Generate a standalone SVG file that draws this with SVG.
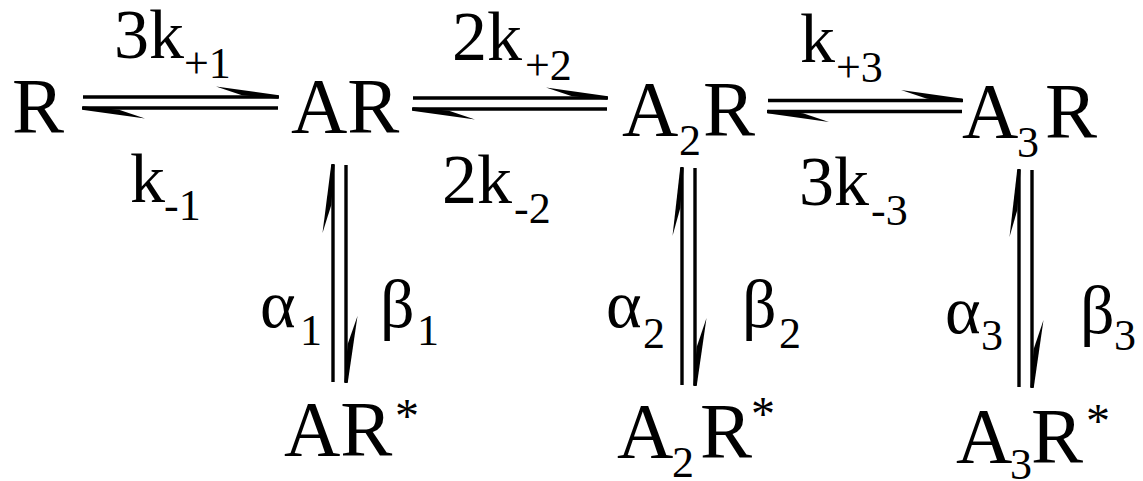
<svg xmlns="http://www.w3.org/2000/svg" width="1143" height="481" viewBox="0 0 1143 481">
<style>
text{font-family:"Times New Roman",Times,"Liberation Serif","DejaVu Serif",serif;fill:#000}
.n{font-size:78px}
.l{font-size:70px}
.g{font-size:68px}
.s{font-size:44px}
.st{font-size:48px}
.ln{stroke:#000;stroke-width:3.4;fill:none}
.b{fill:#000}
</style>
<rect width="1143" height="481" fill="#fff"/>
<g id="connectors">
  <line class="ln" x1="83" y1="97" x2="278" y2="97"/>
  <line class="ln" x1="83" y1="108" x2="278" y2="108"/>
  <polygon class="b" points="216,86.5 279,95.3 279,98.7 242,95.3"/>
  <polygon class="b" points="145,118.5 82,109.7 82,106.3 119,109.7"/>
  <line class="ln" x1="413" y1="98" x2="607" y2="98"/>
  <line class="ln" x1="413" y1="109" x2="607" y2="109"/>
  <polygon class="b" points="546,87.5 608,96.3 608,99.7 572,96.3"/>
  <polygon class="b" points="475,119.5 412,110.7 412,107.3 449,110.7"/>
  <line class="ln" x1="768" y1="100.5" x2="962" y2="100.5"/>
  <line class="ln" x1="768" y1="111.5" x2="962" y2="111.5"/>
  <polygon class="b" points="901,90 963,98.8 963,102.2 927,98.8"/>
  <polygon class="b" points="829,122 767,113.2 767,109.8 803,113.2"/>
  <line class="ln" x1="333" y1="165" x2="333" y2="382"/>
  <line class="ln" x1="346" y1="165" x2="346" y2="382"/>
  <polygon class="b" points="322.5,233 331.3,164 334.7,164 331.3,205"/>
  <polygon class="b" points="357.5,316 347.7,383 344.3,383 347.7,344"/>
  <line class="ln" x1="682" y1="168" x2="682" y2="385"/>
  <line class="ln" x1="695" y1="168" x2="695" y2="385"/>
  <polygon class="b" points="672.5,236 680.3,167 683.7,167 680.3,208"/>
  <polygon class="b" points="706.5,318 696.7,386 693.3,386 696.7,347"/>
  <line class="ln" x1="1019" y1="170" x2="1019" y2="387"/>
  <line class="ln" x1="1032" y1="170" x2="1032" y2="387"/>
  <polygon class="b" points="1009.5,237 1017.3,169 1020.7,169 1017.3,210"/>
  <polygon class="b" points="1043.5,320 1033.7,388 1030.3,388 1033.7,349"/>
  <text class="l" x="114" y="58">3k</text><text class="s" x="184" y="78">+1</text>
  <text class="l" x="130" y="202">k</text><text class="s" x="164" y="220">-1</text>
  <text class="l" x="452" y="60">2k</text><text class="s" x="525" y="80">+2</text>
  <text class="l" x="442" y="203">2k</text><text class="s" x="514" y="223">-2</text>
  <text class="l" x="800" y="62">k</text><text class="s" x="836" y="82">+3</text>
  <text class="l" x="799" y="205">3k</text><text class="s" x="871" y="225">-3</text>
  <text class="g" x="260" y="327">α</text><text class="s" x="300" y="345">1</text>
  <text class="g" x="380" y="327">β</text><text class="s" x="417" y="345">1</text>
  <text class="g" x="606" y="327">α</text><text class="s" x="643" y="348">2</text>
  <text class="g" x="742" y="327">β</text><text class="s" x="779" y="348">2</text>
  <text class="g" x="945" y="333">α</text><text class="s" x="981" y="350">3</text>
  <text class="g" x="1080" y="333">β</text><text class="s" x="1114" y="350">3</text>
</g>
<g id="R"><text class="n" x="12" y="132">R</text></g>
<g id="AR"><text class="n" x="291" y="132">AR</text></g>
<g id="A2R"><text class="n" x="622" y="135">A</text><text class="s" x="679" y="155">2</text><text class="n" x="703" y="135">R</text></g>
<g id="A3R"><text class="n" x="962" y="137">A</text><text class="s" x="1017" y="157">3</text><text class="n" x="1045" y="137">R</text></g>
<g id="ARstar"><text class="n" x="284" y="455">AR</text><text class="st" x="395" y="432">*</text></g>
<g id="A2Rstar"><text class="n" x="617" y="457">A</text><text class="s" x="672" y="477">2</text><text class="n" x="700" y="457">R</text><text class="st" x="751" y="430">*</text></g>
<g id="A3Rstar"><text class="n" x="956" y="462">A</text><text class="s" x="1010" y="479">3</text><text class="n" x="1031" y="462">R</text><text class="st" x="1086" y="437">*</text></g>
</svg>
